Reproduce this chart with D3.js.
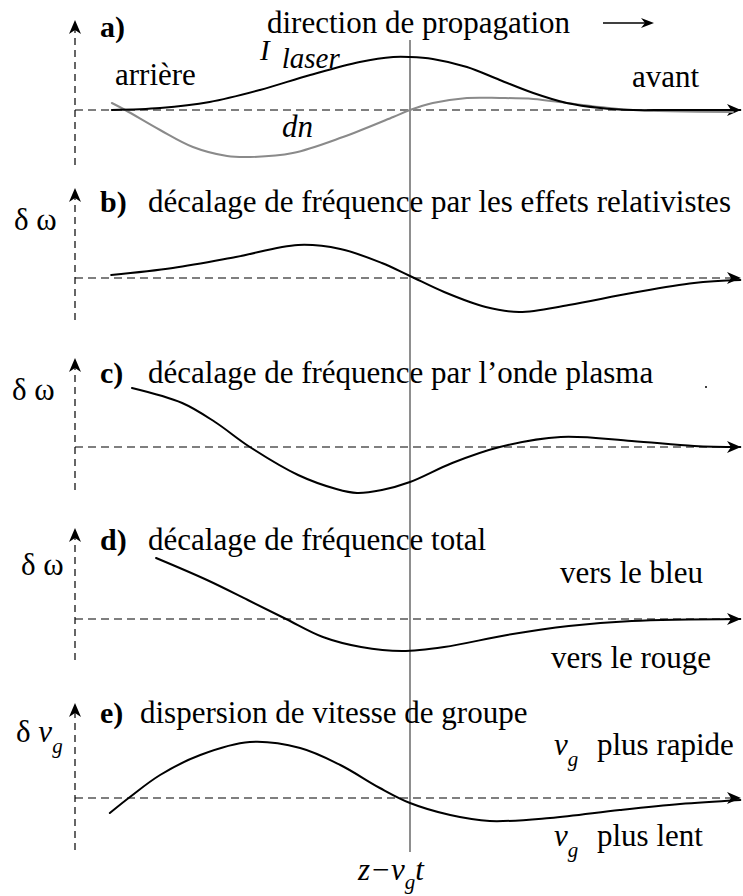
<!DOCTYPE html>
<html>
<head>
<meta charset="utf-8">
<script src="https://cdn.jsdelivr.net/npm/d3@7"></script>
<style>
  html, body { margin: 0; padding: 0; background: #fff; }
  svg { display: block; }
</style>
</head>
<body>
<svg id="fig" width="743" height="896"></svg>
<script>
// Position along the pulse, z - v_g t (0 = pulse centre)
const zLaser = [-4.45, -3.73, -2.99, -2.24, -1.49, -0.75, -0.25, 0, 0.34, 0.85, 1.34, 1.84, 2.34, 2.84, 3.33, 3.84, 4.93];
const laserIntensity = [0, 0.04, 0.16, 0.40, 0.70, 0.96, 1.06, 1.06, 1.02, 0.86, 0.60, 0.34, 0.14, 0.04, 0, 0, 0];

const zDn = [-4.45, -4.25, -3.73, -3.24, -2.73, -2.39, -1.75, -1.0, -0.25, 0, 0.34, 0.85, 1.34, 1.84, 2.34, 2.84, 3.33, 4.82];
const densityPerturbation = [0.14, 0, -0.40, -0.74, -0.92, -0.94, -0.86, -0.54, -0.14, 0, 0.14, 0.24, 0.24, 0.22, 0.14, 0.06, 0, -0.04];

const zRel = [-4.46, -3.54, -2.60, -1.67, -1.04, -0.42, 0, 0.51, 1.13, 1.63, 2.37, 3.31, 4.24, 4.93];
const shiftRelativistic = [0.06, 0.20, 0.42, 0.66, 0.58, 0.30, 0.04, -0.28, -0.58, -0.68, -0.54, -0.30, -0.10, -0.04];

const zPlasma = [-4.15, -3.40, -2.91, -2.39, -1.67, -1.10, -0.79, -0.42, 0, 0.63, 1.34, 2.25, 3.31, 4.24, 4.93];
const shiftPlasma = [1.18, 0.88, 0.50, 0, -0.56, -0.84, -0.92, -0.86, -0.70, -0.32, 0, 0.20, 0.12, 0.02, 0];

const zTotal = [-3.79, -3.03, -2.42, -1.85, -1.30, -0.73, -0.12, 0.51, 1.45, 2.37, 3.31, 4.93];
const shiftTotal = [1.22, 0.78, 0.38, 0, -0.36, -0.56, -0.64, -0.56, -0.32, -0.14, -0.04, 0];

const zGvd = [-4.48, -4.18, -3.73, -3.13, -2.39, -1.64, -1.04, -0.45, 0, 0.60, 1.19, 2.09, 3.13, 4.03, 4.93];
const groupVelocityShift = [-0.30, 0.02, 0.46, 0.86, 1.12, 1.00, 0.66, 0.20, -0.10, -0.34, -0.46, -0.40, -0.24, -0.12, -0.04];

const panelLetters = ["a)", "b)", "c)", "d)", "e)"];
const panelTitles = [
  "direction de propagation",
  "décalage de fréquence par les effets relativistes",
  "décalage de fréquence par l\u2019onde plasma",
  "décalage de fréquence total",
  "dispersion de vitesse de groupe"
];

const FONT = '"Liberation Serif"';
const svg = d3.select("#fig");
const x = d3.scaleLinear().domain([-5, 5]).range([75, 745]);

// layout of the five stacked panels
const panels = [
  { base: 110, top: 20,  bottom: 165 },
  { base: 278, top: 188, bottom: 320 },
  { base: 447, top: 358, bottom: 490 },
  { base: 619, top: 528, bottom: 660 },
  { base: 798, top: 703, bottom: 850 }
];
panels.forEach(p => {
  p.y = d3.scaleLinear().domain([-1, 1]).range([p.base + 50, p.base - 50]);
});

const xEnd = 741;
const arrowUp = "M0,0 L-6,14 L0,10 L6,14 Z";
const arrowRight = "M0,0 L-14,-6 L-10,0 L-14,6 Z";

// axes: dashed vertical ordinate and dashed abscissa, with arrowheads
panels.forEach(p => {
  svg.append("line")
    .attr("x1", x(-5)).attr("x2", x(-5))
    .attr("y1", p.bottom).attr("y2", p.top + 8)
    .attr("stroke", "#000").attr("stroke-width", 1.2)
    .attr("stroke-dasharray", "7,5");
  svg.append("path").attr("d", arrowUp)
    .attr("transform", `translate(${x(-5)},${p.top})`)
    .attr("fill", "#000");
  svg.append("line")
    .attr("x1", x(-5)).attr("x2", xEnd - 8)
    .attr("y1", p.y(0)).attr("y2", p.y(0))
    .attr("stroke", "#000").attr("stroke-width", 1.2)
    .attr("stroke-dasharray", "8,5");
  svg.append("path").attr("d", arrowRight)
    .attr("transform", `translate(${xEnd},${p.y(0)})`)
    .attr("fill", "#000");
});

// pulse centre marker
svg.append("line")
  .attr("x1", x(0)).attr("x2", x(0))
  .attr("y1", 40).attr("y2", 852)
  .attr("stroke", "#444").attr("stroke-width", 1.2);

// curves
const curve = d3.curveCatmullRom.alpha(0.5);
function drawCurve(zs, vs, panel, color) {
  const pts = zs.map((z, i) => [z, vs[i]]);
  const line = d3.line().curve(curve)
    .x(d => x(d[0])).y(d => panel.y(d[1]));
  svg.append("path").datum(pts)
    .attr("d", line)
    .attr("fill", "none")
    .attr("stroke", color)
    .attr("stroke-width", 2)
    .attr("stroke-linecap", "round");
}
drawCurve(zDn, densityPerturbation, panels[0], "#8a8a8a");
drawCurve(zLaser, laserIntensity, panels[0], "#000");
drawCurve(zRel, shiftRelativistic, panels[1], "#000");
drawCurve(zPlasma, shiftPlasma, panels[2], "#000");
drawCurve(zTotal, shiftTotal, panels[3], "#000");
drawCurve(zGvd, groupVelocityShift, panels[4], "#000");

// text helpers
function newText(px, py, size) {
  return svg.append("text")
    .attr("x", px).attr("y", py)
    .attr("font-size", size)
    .style("font-family", FONT);
}
function txt(s, px, py, size, opts = {}) {
  const t = newText(px, py, size).text(s);
  if (opts.bold) t.attr("font-weight", "bold");
  if (opts.italic) t.attr("font-style", "italic");
  return t;
}
// italic symbol with a lowered subscript, e.g. v_g
function subTxt(main, sub, px, py, size) {
  const t = newText(px, py, size).attr("font-style", "italic");
  t.append("tspan").text(main);
  t.append("tspan").attr("font-size", 21).attr("dy", 11).text(sub);
  return t;
}

const FS = 31;
const letterY = [37, 212, 383, 550, 723];
const titleX = [267, 148, 148, 148, 140];
const titleY = [33, 212, 383, 550, 723];
panelLetters.forEach((l, i) => txt(l, 100, letterY[i], 30, { bold: true }));
panelTitles.forEach((t, i) => txt(t, titleX[i], titleY[i], FS));

// propagation direction arrow
svg.append("line")
  .attr("x1", 603).attr("x2", 645).attr("y1", 23).attr("y2", 23)
  .attr("stroke", "#000").attr("stroke-width", 1.3);
svg.append("path").attr("d", "M0,0 L-13,-5 L-9,0 L-13,5 Z")
  .attr("transform", "translate(654,23)").attr("fill", "#000");

// panel a annotations
txt("arrière", 115, 85, FS);
txt("avant", 632, 87, FS);
const il = newText(260, 60, 29).attr("font-style", "italic");
il.append("tspan").text("I");
il.append("tspan").attr("dx", 12).attr("dy", 8).text("laser");
txt("dn", 282, 137, FS, { italic: true });

// ordinate labels
txt("δ ω", 14, 230, FS);
txt("δ ω", 12, 400, FS);
txt("δ ω", 21, 575, FS);
const dv = newText(16, 742, FS);
dv.append("tspan").text("δ ");
dv.append("tspan").attr("font-style", "italic").text("v");
dv.append("tspan").attr("font-style", "italic").attr("font-size", 21).attr("dy", 11).text("g");

// panel d annotations
txt("vers le bleu", 560, 583, FS);
txt("vers le rouge", 551, 668, FS);

// panel e annotations
subTxt("v", "g", 554, 755, FS);
txt("plus rapide", 597, 755, FS);
subTxt("v", "g", 554, 846, FS);
txt("plus lent", 597, 846, FS);

// abscissa label
const zl = newText(358, 880, FS).attr("font-style", "italic");
zl.append("tspan").text("z\u2212v");
zl.append("tspan").attr("font-size", 21).attr("dy", 9).text("g");
zl.append("tspan").attr("dy", -9).text("t");

// small stray mark beside panel c title
svg.append("circle").attr("cx", 706).attr("cy", 387).attr("r", 1).attr("fill", "#000");
</script>
</body>
</html>
